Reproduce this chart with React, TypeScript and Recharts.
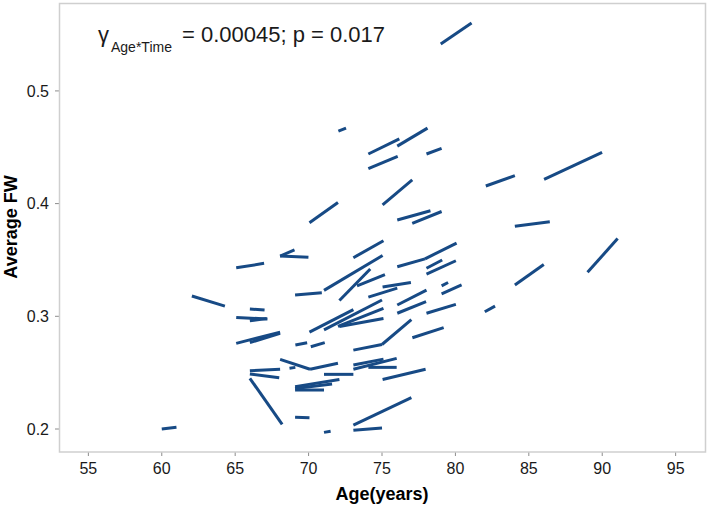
import React from "react";
import { LineChart, Line, XAxis, YAxis } from "recharts";

// one entry per subject: age and average FW at the two visits
const ageT1 = [
  60.0, 62.05, 66.0, 65.07, 66.0, 65.07, 66.0, 69.08, 69.1, 70.15,
  68.06, 70.1, 68.7, 66.0, 66.0, 66.0, 69.08, 69.08, 69.08, 69.08,
  71.05, 72.1, 75.04, 74.07, 79.06, 79.06, 76.04, 76.04, 78.03, 82.0,
  70.06, 71.05, 72.0, 72.1, 73.05, 75.0, 77.07, 71.05, 73.05, 73.05,
  74.07, 75.04, 73.05, 73.05, 71.05, 70.06, 75.04, 65.07, 68.06, 68.06,
  73.05, 73.3, 72.03, 74.07, 76.04, 74.07, 78.03, 79.0, 82.07, 86.04,
  76.04, 77.06, 84.05, 89.0, 84.05, 76.04, 77.93, 78.03, 78.03,
];
const ageT2 = [
  61.0, 64.3, 67.0, 67.2, 67.15, 68.06, 68.06, 70.9, 69.9, 71.1,
  70.1, 72.0, 69.1, 68.06, 68.0, 68.2, 72.1, 71.05, 71.6, 70.06,
  75.04, 74.2, 76.97, 76.04, 79.5, 80.42, 78.03, 78.0, 80.03, 82.7,
  73.05, 75.0, 75.1, 75.1, 75.0, 77.0, 79.2, 73.05, 75.1, 76.0,
  76.0, 77.97, 77.0, 75.0, 71.5, 72.0, 77.06, 66.97, 69.99, 69.04,
  75.1, 75.2, 72.55, 76.18, 78.1, 76.07, 79.06, 81.1, 84.05, 89.99,
  78.3, 79.06, 86.43, 91.05, 86.02, 77.93, 80.08, 79.1, 80.03,
];
const fwT1 = [
  0.2, 0.318, 0.3065, 0.299, 0.296, 0.276, 0.2766, 0.319, 0.2745, 0.273,
  0.2618, 0.253, 0.254, 0.2517, 0.2488, 0.245, 0.2376, 0.2346, 0.236, 0.2104,
  0.323, 0.314, 0.326, 0.317, 0.327, 0.32, 0.31, 0.3027, 0.3027, 0.304,
  0.286, 0.288, 0.291, 0.291, 0.27, 0.275, 0.281, 0.2485, 0.2568, 0.253,
  0.2547, 0.244, 0.2035, 0.199, 0.197, 0.383, 0.3988, 0.343, 0.3535, 0.3535,
  0.352, 0.327, 0.4643, 0.444, 0.451, 0.431, 0.444, 0.5416, 0.4156, 0.4215,
  0.3855, 0.3825, 0.38, 0.339, 0.3277, 0.344, 0.351, 0.3426, 0.3375,
];
const fwT2 = [
  0.2015, 0.309, 0.3056, 0.2976, 0.298, 0.286, 0.285, 0.321, 0.2766, 0.2766,
  0.253, 0.2583, 0.2547, 0.253, 0.2455, 0.2042, 0.244, 0.2346, 0.24, 0.21,
  0.354, 0.342, 0.33, 0.325, 0.33, 0.3278, 0.3233, 0.313, 0.3106, 0.309,
  0.306, 0.3145, 0.307, 0.298, 0.275, 0.297, 0.29, 0.2485, 0.262, 0.2627,
  0.2547, 0.253, 0.2278, 0.201, 0.198, 0.401, 0.421, 0.347, 0.3524, 0.359,
  0.367, 0.337, 0.467, 0.4575, 0.467, 0.442, 0.449, 0.5603, 0.4248, 0.4455,
  0.3937, 0.393, 0.384, 0.369, 0.346, 0.351, 0.365, 0.35, 0.3493,
];

const ageTicks = [55, 60, 65, 70, 75, 80, 85, 90, 95];
const fwTicks = [0.2, 0.3, 0.4, 0.5];

const FONT = '"Liberation Sans", Arial, sans-serif';
const LINE_COLOR = "#174a85";

const subjects = ageT1.map((a, i) => [
  { age: a, fw: fwT1[i] },
  { age: ageT2[i], fw: fwT2[i] },
]);

export default function App() {
  return (
    <div style={{ position: "absolute", left: 0, top: 0, width: 709, height: 508, background: "#fff", fontFamily: FONT }}>
      <LineChart width={709} height={508} margin={{ top: 3, right: 4, left: 0, bottom: 0 }}>
        <XAxis
          type="number"
          dataKey="age"
          domain={[53, 97]}
          ticks={ageTicks}
          allowDataOverflow
          height={56}
          axisLine={false}
          tickSize={4}
          tickMargin={7}
          tickLine={{ stroke: "#8c8c8c" }}
          tick={{ fill: "#1a1a1a", fontSize: 16, fontFamily: FONT }}
        />
        <YAxis
          type="number"
          dataKey="fw"
          domain={[0.1796, 0.578]}
          ticks={fwTicks}
          allowDataOverflow
          width={59}
          axisLine={false}
          tickSize={4}
          tickMargin={6}
          tickLine={{ stroke: "#8c8c8c" }}
          tickFormatter={(v: number) => v.toFixed(1)}
          tick={{ fill: "#1a1a1a", fontSize: 16, fontFamily: FONT }}
        />
        {subjects.map((pts, i) => (
          <Line
            key={`s-${i}`}
            data={pts}
            dataKey="fw"
            stroke={LINE_COLOR}
            strokeWidth={3}
            strokeLinecap="butt"
            dot={false}
            activeDot={false}
            isAnimationActive={false}
          />
        ))}
      </LineChart>
      <svg
        width={709}
        height={508}
        style={{ position: "absolute", left: 0, top: 0, pointerEvents: "none" }}
        fontFamily={FONT}
      >
        <rect x={59.5} y={3.5} width={646} height={448.5} fill="none" stroke="#cfcfcf" strokeWidth={1.5} />
        <text x={98} y={42} fontSize={22} fill="#1a1a1a">γ</text>
        <text x={111} y={52} fontSize={14} fill="#1a1a1a">Age*Time</text>
        <text x={182} y={42} fontSize={22} fill="#1a1a1a">= 0.00045; p = 0.017</text>
        <text x={382} y={500} fontSize={18} fontWeight="bold" textAnchor="middle" fill="#000">Age(years)</text>
        <text x={17} y={227} fontSize={18} fontWeight="bold" textAnchor="middle" fill="#000" transform="rotate(-90 17 227)">
          Average FW
        </text>
      </svg>
    </div>
  );
}
